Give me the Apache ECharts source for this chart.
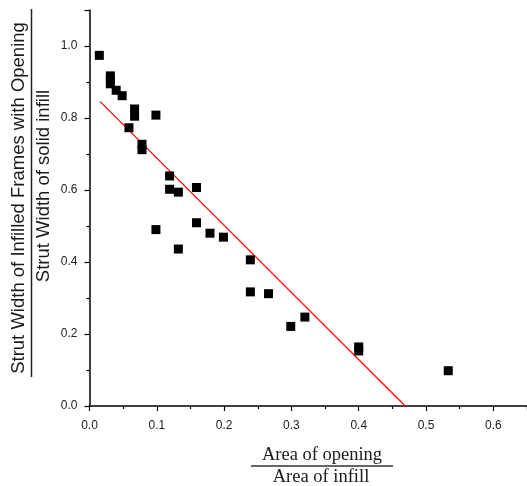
<!DOCTYPE html>
<html>
<head>
<meta charset="utf-8">
<script src="https://cdn.jsdelivr.net/npm/echarts@6/dist/echarts.min.js"></script>
<style>
  html, body { margin: 0; padding: 0; background: #fff; }
  #chart { width: 527px; height: 486px; }
</style>
</head>
<body>
<div id="chart"></div>
<script>
// area of opening / area of infill
const openingRatio = [
  0.0146, 0.031, 0.031, 0.031, 0.0396, 0.0485, 0.0586, 0.067, 0.067,
  0.078, 0.078, 0.0987, 0.0987, 0.119, 0.119, 0.132, 0.132, 0.159,
  0.159, 0.179, 0.199, 0.239, 0.239, 0.266, 0.299, 0.320, 0.400,
  0.400, 0.533
];
// strut width with opening / strut width of solid infill
const strutRatio = [
  0.974, 0.917, 0.906, 0.895, 0.877, 0.862, 0.773, 0.825, 0.805,
  0.727, 0.712, 0.808, 0.490, 0.639, 0.602, 0.594, 0.436, 0.607,
  0.509, 0.480, 0.469, 0.406, 0.317, 0.312, 0.221, 0.247, 0.164,
  0.153, 0.098
];
// fitted line end points
const fitX = [0.0156, 0.469];
const fitY = [0.846, 0.0];

const xTicks = { min: 0, max: 0.65, step: 0.1 };
const yTicks = { min: 0, max: 1.1, step: 0.2 };

const chart = echarts.init(document.getElementById('chart'));

const sans = 'Liberation Sans, Arial, sans-serif';
const serif = 'Liberation Serif, Times New Roman, serif';

function axis(t) {
  return {
    type: 'value',
    min: t.min,
    max: t.max,
    interval: t.step,
    splitLine: { show: false },
    axisLine: { onZero: false, lineStyle: { color: '#000', width: 1.5 } },
    axisTick: { inside: false, length: 5, lineStyle: { color: '#000', width: 1.2 } },
    minorTick: { show: true, splitNumber: 2, length: 3, lineStyle: { color: '#000', width: 1.2 } },
    axisLabel: {
      margin: 10,
      color: '#222',
      fontSize: 12,
      fontFamily: sans,
      showMaxLabel: false,
      formatter: (v) => v.toFixed(1)
    }
  };
}

const xAxis = axis(xTicks);
xAxis.axisLabel.margin = 14;
const yAxis = axis(yTicks);
yAxis.axisLabel.margin = 12;

chart.setOption({
  animation: false,
  backgroundColor: '#fff',
  color: ['#000', '#ff0000'],
  grid: { left: 89.5, right: 0, top: 10, bottom: 80 },
  xAxis: xAxis,
  yAxis: yAxis,
  series: [
    {
      type: 'scatter',
      symbol: 'rect',
      symbolSize: 9,
      itemStyle: { color: '#000', opacity: 1 },
      data: openingRatio.map((x, i) => [x, strutRatio[i]]),
      z: 3
    },
    {
      type: 'line',
      symbol: 'none',
      itemStyle: { color: '#ff0000' },
      lineStyle: { color: '#ff0000', width: 1.2 },
      data: fitX.map((x, i) => [x, fitY[i]]),
      z: 2
    }
  ],
  graphic: [
    // y-axis title as a fraction
    {
      type: 'text', x: 18.5, y: 198, rotation: Math.PI / 2,
      style: { text: 'Strut Width of Infilled Frames with Opening', font: '18.5px ' + sans,
               fill: '#1a1a1a', align: 'center', verticalAlign: 'middle' }
    },
    {
      type: 'line', shape: { x1: 31.5, y1: 9, x2: 31.5, y2: 377 },
      style: { stroke: '#222', lineWidth: 1.5 }
    },
    {
      type: 'text', x: 43.5, y: 186, rotation: Math.PI / 2,
      style: { text: 'Strut Width of solid infill', font: '18.5px ' + sans,
               fill: '#1a1a1a', align: 'center', verticalAlign: 'middle' }
    },
    // x-axis title as a fraction
    {
      type: 'text', x: 322, y: 455,
      style: { text: 'Area of opening', font: '18.5px ' + serif,
               fill: '#1a1a1a', align: 'center', verticalAlign: 'middle' }
    },
    {
      type: 'line', shape: { x1: 251, y1: 466, x2: 393, y2: 466 },
      style: { stroke: '#666', lineWidth: 2 }
    },
    {
      type: 'text', x: 321, y: 477,
      style: { text: 'Area of infill', font: '18.5px ' + serif,
               fill: '#1a1a1a', align: 'center', verticalAlign: 'middle' }
    }
  ]
});
</script>
</body>
</html>
